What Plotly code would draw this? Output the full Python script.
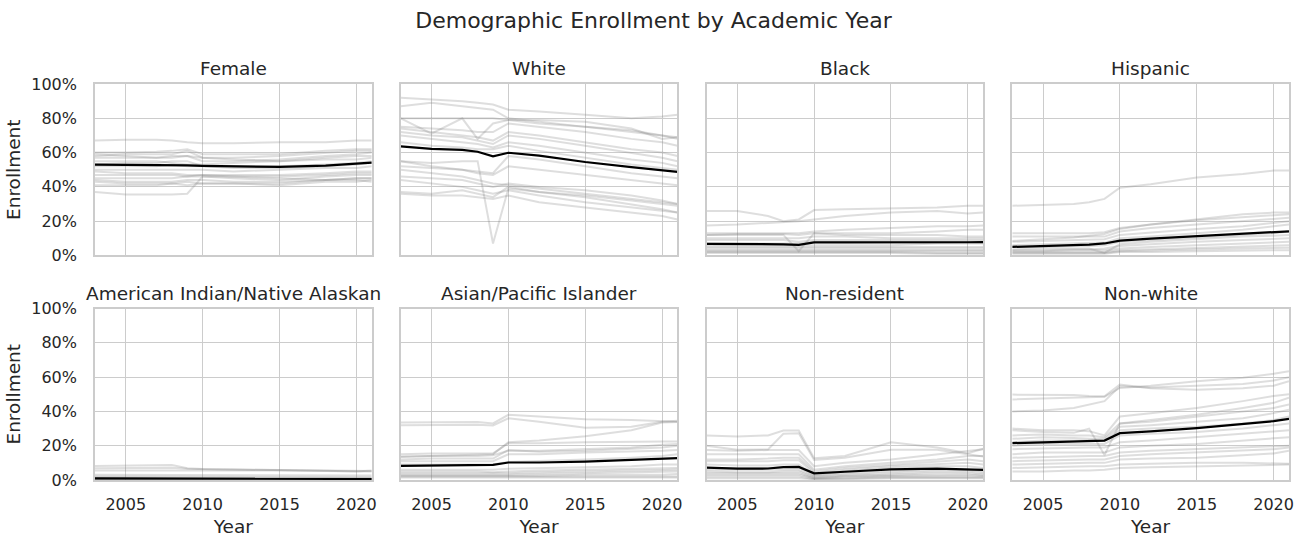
import plotly.graph_objects as go
from plotly.subplots import make_subplots

YEARS = [2003, 2005, 2007, 2008, 2009, 2010, 2012, 2015, 2018, 2020, 2021]

PANELS = ["Female", "White", "Black", "Hispanic",
          "American Indian/Native Alaskan", "Asian/Pacific Islander", "Non-resident", "Non-white"]

female_lines = [
    [67, 67.5, 67.5, 67, 66, 65.5, 65.5, 66, 66, 67, 67],
    [60, 60, 60.5, 61, 62, 59, 59, 59, 61, 62, 62],
    [59, 58, 57, 58, 58, 57, 57, 58, 60, 61, 61],
    [57, 57, 57, 57, 58, 55, 55, 56, 58, 59, 60],
    [55, 55, 55, 54, 53, 53, 54, 55, 56, 56, 57],
    [52, 52, 52, 53, 52, 52, 52, 52, 53, 54, 55],
    [50, 50, 50, 50, 50, 50, 49, 50, 51, 51, 52],
    [49, 48, 48, 48, 47, 47, 47, 47, 48, 49, 49],
    [47, 47, 47, 47, 46, 47, 46, 46, 47, 48, 48],
    [45, 45, 45, 45, 46, 46, 45, 44, 46, 47, 47],
    [43, 42, 42, 42, 43, 42, 42, 42, 44, 45, 45],
    [41, 41, 41, 42, 41, 42, 42, 41, 43, 43, 44],
    [37, 35.5, 35.5, 35.5, 36, 46, 46, 45, 44, 44, 43],
    [44, 43, 43, 43, 44, 44, 43, 43, 44, 45, 45],
    [53, 54, 54, 55, 55, 52, 51, 51, 52, 53, 54],
    [58, 59, 59, 59, 61, 57, 56, 55, 57, 58, 58],
]
female_mean = [53, 52.9, 52.7, 52.6, 52.5, 52.2, 51.9, 51.7, 52.4, 53.6, 54.2]

white_lines = [
    [92, 91, 90, 89, 88, 85, 84, 82, 80, 81, 82],
    [87, 89, 87, 86, 85, 80, 78, 75, 73, 70, 68],
    [80, 71, 80, 68, 77, 79, 79, 78, 74, 68, 69],
    [80, 80, 80, 80, 80, 79, 77, 75, 72, 70, 69],
    [75, 74, 73, 72, 72, 77, 75, 72, 68, 66, 64],
    [74, 72, 70, 69, 67, 72, 70, 66, 62, 60, 58],
    [72, 70, 69, 67, 65, 70, 68, 64, 60, 57, 55],
    [70, 68, 66, 65, 63, 66, 64, 60, 56, 54, 52],
    [66, 64, 63, 62, 62, 64, 61, 57, 53, 51, 50],
    [55, 52, 50, 49, 48, 58, 56, 52, 48, 46, 45],
    [52, 51, 50, 48, 47, 52, 50, 47, 44, 42, 41],
    [50, 48, 46, 44, 42, 41, 39, 36, 33, 31, 30],
    [46, 45, 44, 42, 40, 42, 40, 38, 35, 32, 30],
    [44, 42, 40, 38, 36, 38, 35, 31, 28, 26, 25],
    [37, 36, 38, 36, 34, 40, 37, 34, 30, 27, 25],
    [36, 35, 35, 34, 33, 35, 31, 28, 25, 23, 21],
    [55, 54, 55, 55, 7, 39, 37, 35, 32, 30, 29],
]
white_mean = [63.6, 62.2, 61.6, 60.5, 57.8, 59.9, 58.2, 54.5, 51.5, 49.8, 48.8]

black_lines = [
    [26, 26, 23, 20, 21, 26.5, 27, 27.5, 28, 29, 29],
    [17.5, 18, 19, 19.5, 20, 21, 23, 25, 26, 24.5, 25],
    [13, 13, 13, 13, 13, 14, 15, 16, 17, 17, 17.5],
    [12, 12.5, 12.5, 12.5, 12, 13, 13, 13, 14, 15, 15],
    [12, 12, 12, 12, 2.5, 13, 12, 12, 12, 11, 11],
    [10, 10, 10, 10, 10, 11, 11, 10, 10, 10, 10],
    [9, 9, 9, 9, 8, 9, 9, 9, 9, 9, 9],
    [7, 7, 7, 7, 7, 8, 8, 8, 8, 8, 8],
    [6, 6, 6, 6, 6, 6, 6, 6, 7, 7, 7],
    [5, 5, 5, 5, 5, 5, 5, 5, 5, 5, 5],
    [4, 4, 4, 4, 4, 4, 4, 4, 4, 4, 4],
    [3, 3, 3, 3, 3, 3, 3, 3, 3, 3, 3],
    [2.5, 2.5, 2.5, 2.5, 2.5, 2.5, 2.5, 2.5, 2.5, 2.5, 2.5],
    [2, 2, 2, 2, 2, 2, 2, 2, 1.5, 1.5, 1.5],
    [1.5, 1.5, 1.5, 1.5, 1.5, 1.5, 1.5, 1.5, 1, 1, 1],
]
black_mean = [6.8, 6.8, 6.6, 6.5, 6.2, 7.6, 7.6, 7.5, 7.6, 7.7, 7.8]

hispanic_lines = [
    [29, 29.5, 30, 31, 33, 39.5, 41.5, 45.5, 47.5, 49.5, 49.5],
    [13, 13, 13, 13, 13.5, 16, 18, 21, 24, 25, 25],
    [8.5, 9.5, 10.5, 11.5, 12.5, 15.5, 18, 20.5, 22.5, 23.5, 24],
    [11, 11, 11, 11, 11, 14, 16, 18, 20, 21, 22],
    [8, 8.5, 9, 9, 9.5, 12, 13.5, 15.5, 17, 19, 20],
    [6, 6.5, 7, 7, 7.5, 10, 11, 13, 15, 17, 18],
    [5, 5, 5.5, 5.5, 6, 8, 9, 10.5, 12, 13, 14],
    [3.5, 4, 4, 4, 1.5, 6.5, 8, 9.5, 11, 11.5, 12],
    [3, 3, 3.5, 3.5, 4, 5.5, 6.5, 8, 9, 9.5, 10],
    [2.5, 2.5, 3, 3, 3, 4, 5, 6, 7, 7.5, 8],
    [2, 2, 2, 2, 2, 3, 3.5, 4.5, 5, 5.5, 6],
    [1.5, 1.5, 1.5, 1.5, 1.5, 2.5, 3, 3.5, 4, 4.5, 4.5],
    [1, 1, 1, 1, 1, 2, 2, 2.5, 3, 3, 3],
]
hispanic_mean = [5, 5.5, 6, 6.3, 7, 8.7, 9.8, 11.2, 12.6, 13.6, 14.1]

amind_lines = [
    [8.2, 8.4, 8.5, 8.8, 6.8, 6.4, 6.2, 5.9, 5.4, 4.9, 5.5],
    [6.8, 7, 7, 7.2, 6.5, 6.2, 6, 5.8, 5.5, 5.2, 5.2],
    [5.5, 5.5, 5.6, 5.7, 5.8, 5.8, 5.6, 5.5, 5.2, 5, 5],
    [3, 3, 3, 3, 3, 3, 3, 2.8, 2.7, 2.6, 2.6],
    [2, 2, 2, 2, 2, 2, 1.8, 1.8, 1.7, 1.6, 1.6],
    [1.5, 1.5, 1.5, 1.4, 1.4, 1.3, 1.3, 1.2, 1.1, 1, 1],
    [1, 1, 1, 1, 1, 1, 0.9, 0.9, 0.8, 0.8, 0.8],
    [0.6, 0.6, 0.6, 0.6, 0.6, 0.5, 0.5, 0.5, 0.5, 0.5, 0.5],
    [0.4, 0.4, 0.4, 0.4, 0.4, 0.4, 0.4, 0.4, 0.4, 0.4, 0.4],
    [0.3, 0.3, 0.3, 0.3, 0.3, 0.3, 0.3, 0.3, 0.3, 0.3, 0.3],
]
amind_mean = [0.9, 0.9, 0.9, 0.9, 0.8, 0.8, 0.8, 0.7, 0.7, 0.6, 0.6]

asian_lines = [
    [33.6, 33.8, 34, 33.8, 33, 38, 37, 35.5, 35, 34.5, 34],
    [32, 32, 32.3, 32.2, 31.8, 36, 34, 30.5, 31, 34, 34.5],
    [13.5, 14, 14.5, 14.5, 15, 22, 23, 25.5, 29, 33.5, 33.8],
    [15, 15.5, 15.5, 15.5, 15.5, 21.5, 21.5, 22, 22.5, 22.5, 22.5],
    [13.5, 14, 14, 14, 14.5, 17, 17, 18, 19, 20.5, 21],
    [12, 12.5, 12.5, 12.5, 12.5, 17.5, 16.5, 17, 18, 19, 20],
    [11, 11, 11, 11, 11, 15, 15, 16, 16.5, 17, 17.5],
    [9, 9, 9, 9, 9, 10.5, 11, 12, 13, 14, 15],
    [6, 6, 6, 6, 6, 6.5, 7, 7.5, 8, 9, 9],
    [5, 5, 5, 5, 4.5, 5, 5.5, 6, 6.5, 7, 7],
    [4, 4, 4, 4, 4, 4, 4.5, 5, 5.5, 6, 6],
    [3, 3, 3, 3, 3, 3, 3.5, 4, 4.5, 4.5, 5],
    [2.5, 2.5, 2.5, 2.5, 2.5, 2.5, 2.5, 3, 3, 3, 3.5],
    [2, 2, 2, 2, 2, 2, 2, 2, 2, 2, 2],
    [1.5, 1.5, 1.5, 1.5, 1.5, 1.5, 1.5, 1.5, 1.5, 1.5, 1.5],
]
asian_mean = [8.2, 8.4, 8.5, 8.6, 8.8, 10.2, 10.2, 10.7, 11.5, 12.3, 12.7]

nonres_lines = [
    [26, 25.4, 26, 28.9, 28.9, 12.7, 14, 22, 19, 15.6, 18.2],
    [20, 17.6, 17.8, 27, 27.3, 11.7, 13, 17.6, 17.6, 15, 13.7],
    [17.5, 17, 17.5, 17.5, 17.5, 8, 10, 12, 15, 17, 18],
    [15, 15, 15, 15, 15, 6, 8, 10, 12, 14, 14],
    [12, 12, 12.5, 13, 13, 5, 7, 9, 11, 12, 11],
    [11, 11, 11, 11.5, 11.5, 4, 6, 8, 9, 10, 9],
    [9, 8.5, 8.5, 9, 9, 3, 5, 7, 8, 8, 7],
    [7, 7, 7, 7.5, 7.5, 2.5, 4, 5, 6, 6, 5],
    [6, 6, 6, 6, 6, 2, 3, 4, 5, 5, 4],
    [5, 4.5, 4.5, 5, 5, 1.5, 2.5, 3, 4, 4, 3],
    [4, 4, 4, 4, 4, 1, 2, 2.5, 3, 3, 2.5],
    [3, 3, 3, 3, 3, 1, 1.5, 2, 2, 2, 2],
    [2, 2, 2, 2, 2, 0.5, 1, 1.5, 1.5, 1.5, 1.5],
    [1, 1, 1, 1, 1, 0.5, 0.5, 1, 1, 1, 1],
]
nonres_mean = [7.2, 6.6, 6.7, 7.5, 7.6, 3.9, 4.8, 6.2, 6.6, 5.9, 5.9]

nonwhite_lines = [
    [49.8, 49.8, 49.5, 49, 48.8, 55.7, 53.5, 52.7, 53.5, 55, 57.6],
    [47, 47.5, 48, 48.5, 48.5, 53.7, 55, 57.6, 59.6, 62, 63.5],
    [40, 40.5, 42, 44, 46, 54.7, 54, 55, 56, 58, 60],
    [30, 29, 29, 28.5, 26, 37, 39, 42, 46, 49, 50],
    [29, 28, 27.5, 30, 14.6, 33, 35, 38, 42, 45, 48],
    [26, 26.5, 26, 26, 25, 33, 34, 37, 40, 42, 44],
    [24, 25, 24.5, 24, 24, 31, 32, 34, 36, 39, 41],
    [22, 23, 23, 23, 23, 29, 30, 31, 33, 35, 37],
    [20, 21, 21, 21, 21, 26, 27, 28, 30, 32, 33],
    [18, 18.5, 19, 19, 19, 22, 23, 25, 27, 28, 29],
    [15, 16, 16, 16, 16, 19, 20, 21, 23, 24, 25],
    [13, 13.5, 14, 14, 14, 16, 17, 18, 19, 20, 20],
    [11, 11.5, 12, 12, 12, 14, 15, 16, 17, 18, 19],
    [9, 9.5, 10, 10, 10, 12, 12.5, 13, 14.5, 15.5, 17],
    [7, 7.5, 8, 8, 8, 9, 9.5, 10, 10, 9.5, 9.5],
    [5, 5, 5.5, 5.5, 6, 7, 7.5, 8, 8.5, 9, 9],
]
nonwhite_mean = [21.5, 22.1, 22.5, 22.8, 23, 27.3, 28.3, 30.3, 32.5, 34.3, 35.7]

ALL_LINES = [female_lines, white_lines, black_lines, hispanic_lines,
             amind_lines, asian_lines, nonres_lines, nonwhite_lines]
ALL_MEANS = [female_mean, white_mean, black_mean, hispanic_mean,
             amind_mean, asian_mean, nonres_mean, nonwhite_mean]

X_TICKS = [2005, 2010, 2015, 2020]
Y_TICKS = [0, 20, 40, 60, 80, 100]
Y_LABELS = ["0%", "20%", "40%", "60%", "80%", "100%"]

FONT = "DejaVu Sans"
TXT = "#262626"
GRID = "#cccccc"

fig = make_subplots(rows=2, cols=4, subplot_titles=PANELS,
                    horizontal_spacing=0.0243, vertical_spacing=0.134)

for i, (lines, mean) in enumerate(zip(ALL_LINES, ALL_MEANS)):
    r, c = i // 4 + 1, i % 4 + 1
    for ln in lines:
        fig.add_trace(go.Scatter(x=YEARS, y=ln, mode="lines",
                                 line=dict(color="rgba(128,128,128,0.26)", width=2),
                                 showlegend=False, hoverinfo="skip"), row=r, col=c)
    fig.add_trace(go.Scatter(x=YEARS, y=mean, mode="lines",
                             line=dict(color="black", width=2.2),
                             showlegend=False), row=r, col=c)
    fig.update_xaxes(range=[2003, 2021], tickvals=X_TICKS, showgrid=True, gridcolor=GRID,
                     gridwidth=1.3, showline=True, linecolor=GRID, linewidth=1.6, mirror=True,
                     zeroline=False, ticks="outside", ticklen=9, tickcolor="rgba(0,0,0,0)",
                     automargin=False,
                     showticklabels=(r == 2), tickfont=dict(size=16, color=TXT, family=FONT),
                     title=dict(text="Year" if r == 2 else "", font=dict(size=18.5, color=TXT, family=FONT),
                                standoff=8),
                     row=r, col=c)
    fig.update_yaxes(range=[0, 100], tickvals=Y_TICKS, ticktext=Y_LABELS, showgrid=True, gridcolor=GRID,
                     gridwidth=1.3, showline=True, linecolor=GRID, linewidth=1.6, mirror=True,
                     zeroline=False, ticks="outside", ticklen=13, tickcolor="rgba(0,0,0,0)",
                     automargin=False,
                     showticklabels=(c == 1), tickfont=dict(size=16, color=TXT, family=FONT),
                     title=dict(text="Enrollment" if c == 1 else "", font=dict(size=18.5, color=TXT, family=FONT),
                                standoff=6),
                     row=r, col=c)

for ann in fig.layout.annotations:
    ann.font = dict(size=18.5, color=TXT, family=FONT)
    ann.yshift = 3

fig.update_layout(
    width=1307, height=537,
    margin=dict(l=95, r=18, t=84, b=57),
    paper_bgcolor="white", plot_bgcolor="white",
    font=dict(family=FONT, color=TXT),
    title=dict(text="Demographic Enrollment by Academic Year", x=0.5, xanchor="center",
               y=0.962, yanchor="middle", font=dict(size=22, color=TXT, family=FONT)),
    showlegend=False,
)

fig.write_html("out.html")
